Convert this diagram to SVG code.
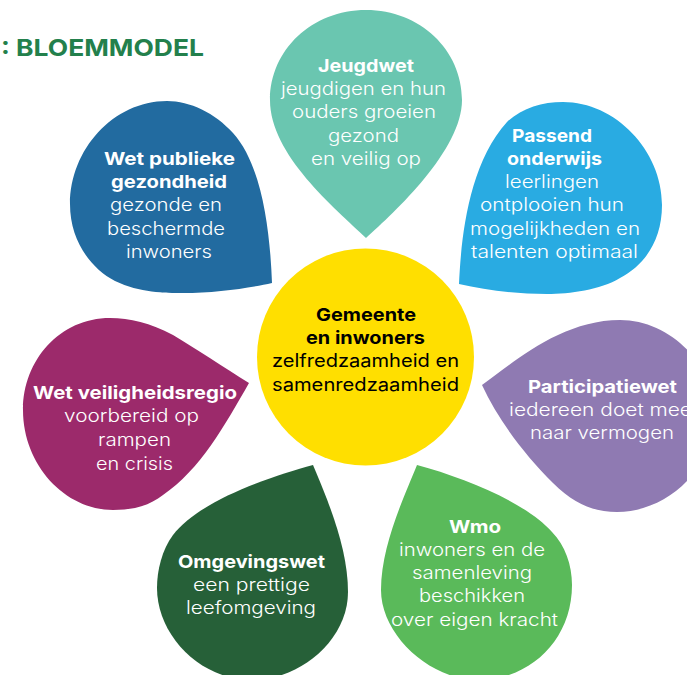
<svg xmlns="http://www.w3.org/2000/svg" width="687" height="675" viewBox="0 0 687 675">
<style>
text{font-family:"Inter","Noto Sans","Liberation Sans",sans-serif;font-size:18px;font-weight:300;fill:#fff}
text.b{font-weight:700}
#center text{fill:#000;font-weight:400}
#center text.b{font-weight:700}
#title{font-size:23.5px;font-weight:700;fill:#23804c}
</style>
<rect width="687" height="675" fill="#fff"/>
<text id="title" x="1" y="56" textLength="203" lengthAdjust="spacingAndGlyphs">: BLOEMMODEL</text>
<g id="jeugdwet">
<path fill="#6ac6b0" d="M366 238C335 208 270 155 270 100C270 50 312 10 366 10C420 10 462 50 462 100C462 150 395 212 366 238Z"/>
<text class="b" x="318" y="72" textLength="96" lengthAdjust="spacingAndGlyphs">Jeugdwet</text>
<text x="281" y="95" textLength="165" lengthAdjust="spacingAndGlyphs">jeugdigen en hun</text>
<text x="292" y="118" textLength="144" lengthAdjust="spacingAndGlyphs">ouders groeien</text>
<text x="328" y="142" textLength="71" lengthAdjust="spacingAndGlyphs">gezond</text>
<text x="311" y="165" textLength="110" lengthAdjust="spacingAndGlyphs">en veilig op</text>
</g>
<g id="wet-publieke-gezondheid">
<path fill="#226ba0" d="M272 283C270 230 262 165 233 133C215 113 190 101 167 101C113 101 70 150 70 204C70 240 90 268 115 281C140 293 165 293 183 293C215 293 250 288 272 283Z"/>
<text class="b" x="104" y="165" textLength="131" lengthAdjust="spacingAndGlyphs">Wet publieke</text>
<text class="b" x="111" y="188" textLength="116" lengthAdjust="spacingAndGlyphs">gezondheid</text>
<text x="110" y="211" textLength="112" lengthAdjust="spacingAndGlyphs">gezonde en</text>
<text x="107" y="235" textLength="118" lengthAdjust="spacingAndGlyphs">beschermde</text>
<text x="126" y="258" textLength="86" lengthAdjust="spacingAndGlyphs">inwoners</text>
</g>
<g id="passend-onderwijs">
<path fill="#29abe2" d="M459 284C461 240 468 165 507 122C522 108 542 102 563 102C615 102 662 150 662 205C662 240 645 265 620 278C600 290 570 294 547 294C515 294 485 290 459 284Z"/>
<text class="b" x="512" y="142" textLength="80" lengthAdjust="spacingAndGlyphs">Passend</text>
<text class="b" x="507" y="165" textLength="95" lengthAdjust="spacingAndGlyphs">onderwijs</text>
<text x="505" y="188" textLength="94" lengthAdjust="spacingAndGlyphs">leerlingen</text>
<text x="480" y="211" textLength="144" lengthAdjust="spacingAndGlyphs">ontplooien hun</text>
<text x="470" y="235" textLength="170" lengthAdjust="spacingAndGlyphs">mogelijkheden en</text>
<text x="471" y="258" textLength="167" lengthAdjust="spacingAndGlyphs">talenten optimaal</text>
</g>
<g id="wet-veiligheidsregio">
<path fill="#9c2a6b" d="M249 383C225 368 195 348 173 335C150 323 130 318 110 318C60 318 23 360 23 410C23 465 65 510 113 510C135 510 150 505 163 495C200 470 225 425 249 383Z"/>
<text class="b" x="33" y="399" textLength="204" lengthAdjust="spacingAndGlyphs">Wet veiligheidsregio</text>
<text x="64" y="422" textLength="135" lengthAdjust="spacingAndGlyphs">voorbereid op</text>
<text x="98" y="446" textLength="73" lengthAdjust="spacingAndGlyphs">rampen</text>
<text x="96" y="470" textLength="77" lengthAdjust="spacingAndGlyphs">en crisis</text>
</g>
<g id="omgevingswet">
<path fill="#266038" d="M313 465C270 477 200 500 173 535C162 550 157 570 157 588C157 635 200 680 252 680C300 680 348 640 348 592C348 550 330 505 313 465Z"/>
<text class="b" x="178" y="568" textLength="147" lengthAdjust="spacingAndGlyphs">Omgevingswet</text>
<text x="193" y="591" textLength="117" lengthAdjust="spacingAndGlyphs">een prettige</text>
<text x="186" y="614" textLength="130" lengthAdjust="spacingAndGlyphs">leefomgeving</text>
</g>
<g id="wmo">
<path fill="#5aba5a" d="M417 465C405 495 381 545 381 590C381 635 430 680 478 680C530 680 572 640 572 585C572 565 565 545 552 532C525 502 465 478 417 465Z"/>
<text class="b" x="449" y="533" textLength="52" lengthAdjust="spacingAndGlyphs">Wmo</text>
<text x="399" y="556" textLength="146" lengthAdjust="spacingAndGlyphs">inwoners en de</text>
<text x="412" y="579" textLength="120" lengthAdjust="spacingAndGlyphs">samenleving</text>
<text x="419" y="602" textLength="106" lengthAdjust="spacingAndGlyphs">beschikken</text>
<text x="391" y="626" textLength="167" lengthAdjust="spacingAndGlyphs">over eigen kracht</text>
</g>
<g id="participatiewet">
<path fill="#8f7ab2" d="M482 385C510 365 560 320 620 320C670 320 715 365 715 415C715 465 670 512 617 512C595 512 575 505 553 483C525 455 498 420 482 385Z"/>
<text class="b" x="528" y="393" textLength="149" lengthAdjust="spacingAndGlyphs">Participatiewet</text>
<text x="509" y="416" textLength="183" lengthAdjust="spacingAndGlyphs">iedereen doet mee</text>
<text x="530" y="439" textLength="144" lengthAdjust="spacingAndGlyphs">naar vermogen</text>
</g>
<g id="center">
<circle cx="365.5" cy="357" r="108.5" fill="#ffdf00"/>
<text class="b" x="316" y="321" textLength="100" lengthAdjust="spacingAndGlyphs">Gemeente</text>
<text class="b" x="306" y="344" textLength="119" lengthAdjust="spacingAndGlyphs">en inwoners</text>
<text x="272" y="367" textLength="187" lengthAdjust="spacingAndGlyphs">zelfredzaamheid en</text>
<text x="272" y="391" textLength="187" lengthAdjust="spacingAndGlyphs">samenredzaamheid</text>
</g>
</svg>
